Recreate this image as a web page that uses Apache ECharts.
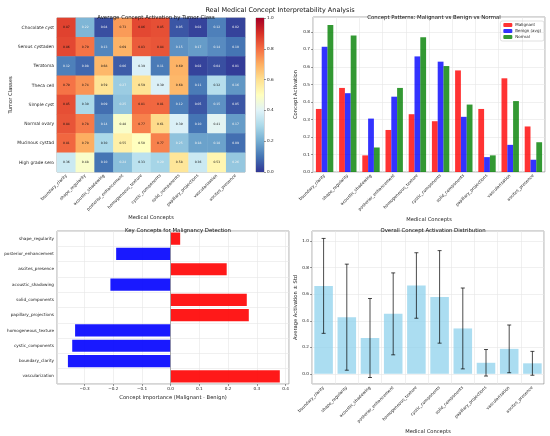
<!DOCTYPE html>
<html>
<head>
<meta charset="utf-8">
<script src="https://cdn.jsdelivr.net/npm/echarts@6/dist/echarts.min.js"></script>
<style>
html,body{margin:0;padding:0;background:#fff;}
#main{width:550px;height:436px;}
</style>
</head>
<body>
<div id="main"></div>
<script>
// categories
var concepts = ['boundary_clarity','shape_regularity','acoustic_shadowing','posterior_enhancement','homogeneous_texture',
                'cystic_components','solid_components','papillary_projections','vascularization','ascites_presence'];
var classes = ['Chocolate cyst','Serous cystaden','Teratoma','Theca cell','Simple cyst','Normal ovary','Mucinous cystad','High grade sero'];

// heatmap: one row per class, one value per concept
var activation = [
    [0.87,0.22,0.04,0.73,0.86,0.85,0.05,0.02,0.12,0.02],
    [0.86,0.79,0.13,0.69,0.83,0.84,0.15,0.17,0.14,0.10],
    [0.12,0.08,0.68,0.06,0.39,0.11,0.69,0.02,0.04,0.01],
    [0.79,0.74,0.59,0.27,0.59,0.39,0.68,0.11,0.32,0.16],
    [0.85,0.30,0.09,0.25,0.81,0.81,0.12,0.05,0.15,0.05],
    [0.84,0.78,0.14,0.48,0.77,0.61,0.39,0.10,0.41,0.17],
    [0.81,0.70,0.30,0.55,0.50,0.77,0.25,0.18,0.18,0.09],
    [0.36,0.48,0.10,0.24,0.33,0.29,0.58,0.36,0.53,0.26]
];

// malignant vs benign vs normal
var malignant = [0.36,0.48,0.095,0.24,0.33,0.29,0.58,0.36,0.535,0.26];
var benign    = [0.715,0.45,0.305,0.43,0.66,0.63,0.315,0.085,0.155,0.07];
var normal    = [0.84,0.78,0.14,0.48,0.77,0.605,0.385,0.095,0.405,0.17];

// importance, listed bottom to top
var impConcepts = ['vascularization','boundary_clarity','cystic_components','homogeneous_texture','papillary_projections',
                   'solid_components','acoustic_shadowing','ascites_presence','posterior_enhancement','shape_regularity'];
var impValues = [0.38,-0.358,-0.343,-0.333,0.272,0.265,-0.21,0.195,-0.19,0.033];

// overall distribution
var meanAct = [0.663,0.427,0.27,0.452,0.666,0.58,0.342,0.083,0.188,0.079];
var stdAct  = [0.358,0.40,0.298,0.309,0.247,0.349,0.305,0.10,0.18,0.09];

var colorTicks = [0,0.2,0.4,0.6,0.8,1.0];

window.onload = function(){
    var FONT = 'DejaVu Sans';
    var rdylbu = ['#313695','#4575b4','#74add1','#abd9e9','#e0f3f8','#ffffbf','#fee090','#fdae61','#f46d43','#d73027','#a50026'];
    var gridLine = {show:true, lineStyle:{color:'#e6e6e6', width:0.6}};
    var tickLabel = {fontFamily:FONT, fontSize:4.2, color:'#222'};
    var nameStyle = {fontFamily:FONT, fontSize:5.2, color:'#222'};

    var heatData = [];
    for (var r = 0; r < classes.length; r++) {
        for (var c = 0; c < concepts.length; c++) {
            heatData.push([c, r, activation[r][c]]);
        }
    }

    var stops = [];
    for (var i = 0; i < rdylbu.length; i++) {
        stops.push({offset: i/(rdylbu.length-1), color: rdylbu[i]});
    }

    var errData = [];
    for (var k = 0; k < meanAct.length; k++) {
        errData.push([k, meanAct[k], stdAct[k]]);
    }

    function fmt1(v){
        var s = Math.abs(v).toFixed(1);
        return v < -1e-9 ? '\u2212' + s : s;
    }

    function titleAt(text, x, y, size){
        return {text:text, left:x, top:y, textAlign:'center',
                textStyle:{fontFamily:FONT, fontSize:size, fontWeight:'normal', color:'#111'}};
    }

    var myChart = echarts.init(document.getElementById('main'), null, {renderer:'canvas'});

    var option = {
        backgroundColor:'#fff',
        animation:false,
        title:[
            titleAt('Real Medical Concept Interpretability Analysis', 275, 2, 6.5),
            titleAt('Average Concept Activation by Tumor Class', 151, 10, 5.4),
            titleAt('Concept Patterns: Malignant vs Benign vs Normal', 429, 10, 5.4),
            titleAt('Key Concepts for Malignancy Detection', 173, 223, 5.4),
            titleAt('Overall Concept Activation Distribution', 428, 223, 5.4)
        ],
        legend:{
            data:['Malignant','Benign (avg)','Normal'],
            orient:'vertical', right:6, top:21,
            itemWidth:9, itemHeight:4, itemGap:2,
            padding:[2,3,2,3],
            borderColor:'#ccc', borderWidth:0.6, borderRadius:2,
            textStyle:{fontFamily:FONT, fontSize:4, color:'#222', padding:[0,0,0,-2]}
        },
        visualMap:{
            show:false, min:0, max:1, seriesIndex:0, dimension:2,
            inRange:{color:rdylbu}
        },
        grid:[
            {left:57, top:18, width:188, height:154, show:true, borderColor:'#777', borderWidth:0.6},
            {left:256, top:18, width:8, height:154, show:true, borderColor:'#777', borderWidth:0.6},
            {left:313, top:17, width:232, height:155, show:true, borderColor:'#777', borderWidth:0.6},
            {left:57, top:231, width:232, height:153, show:true, borderColor:'#777', borderWidth:0.6},
            {left:312, top:231, width:232, height:153, show:true, borderColor:'#777', borderWidth:0.6}
        ],
        xAxis:[
            {gridIndex:0, type:'category', data:concepts,
             name:'Medical Concepts', nameLocation:'middle', nameGap:43, nameTextStyle:nameStyle,
             axisLine:{show:false}, axisTick:{alignWithLabel:true, length:2, lineStyle:{color:'#333', width:0.5}},
             axisLabel:Object.assign({rotate:45, interval:0, margin:3}, tickLabel)},
            {gridIndex:1, type:'category', data:[''], show:false},
            {gridIndex:2, type:'category', data:concepts,
             name:'Medical Concepts', nameLocation:'middle', nameGap:45, nameTextStyle:nameStyle,
             axisLine:{show:false}, axisTick:{alignWithLabel:true, length:2, lineStyle:{color:'#333', width:0.5}},
             axisLabel:Object.assign({rotate:45, interval:0, margin:3}, tickLabel),
             splitLine:gridLine},
            {gridIndex:3, type:'value', min:-0.396, max:0.412, minInterval:0.1, maxInterval:0.1,
             name:'Concept Importance (Malignant - Benign)', nameLocation:'middle', nameGap:11, nameTextStyle:nameStyle,
             axisLine:{show:false}, axisTick:{show:true, length:2, lineStyle:{color:'#333', width:0.5}},
             axisLabel:Object.assign({formatter:fmt1, margin:3, showMinLabel:false, showMaxLabel:false}, tickLabel),
             splitLine:gridLine},
            {gridIndex:4, type:'category', data:concepts,
             name:'Medical Concepts', nameLocation:'middle', nameGap:45, nameTextStyle:nameStyle,
             axisLine:{show:false}, axisTick:{alignWithLabel:true, length:2, lineStyle:{color:'#333', width:0.5}},
             axisLabel:Object.assign({rotate:45, interval:0, margin:3}, tickLabel),
             splitLine:gridLine}
        ],
        yAxis:[
            {gridIndex:0, type:'category', data:classes, inverse:true,
             name:'Tumor Classes', nameLocation:'middle', nameGap:42, nameTextStyle:nameStyle,
             axisLine:{show:false}, axisTick:{alignWithLabel:true, length:2, lineStyle:{color:'#333', width:0.5}},
             axisLabel:Object.assign({margin:3}, tickLabel, {fontSize:4.4})},
            {gridIndex:1, type:'value', min:0, max:1, interval:0.2, position:'right',
             axisLine:{show:false}, axisTick:{show:true, length:2, lineStyle:{color:'#333', width:0.5}},
             axisLabel:Object.assign({formatter:fmt1, margin:3}, tickLabel),
             splitLine:{show:false}},
            {gridIndex:2, type:'value', min:0, max:0.885, interval:0.1,
             name:'Concept Activation', nameLocation:'middle', nameGap:15, nameTextStyle:nameStyle,
             axisLine:{show:false}, axisTick:{show:true, length:2, lineStyle:{color:'#333', width:0.5}},
             axisLabel:Object.assign({formatter:fmt1, margin:3, showMaxLabel:false}, tickLabel),
             splitLine:gridLine},
            {gridIndex:3, type:'category', data:impConcepts,
             axisLine:{show:false}, axisTick:{alignWithLabel:true, length:2, lineStyle:{color:'#333', width:0.5}},
             axisLabel:Object.assign({margin:3, interval:0}, tickLabel),
             splitLine:gridLine},
            {gridIndex:4, type:'value', min:-0.077, max:1.077, minInterval:0.2, maxInterval:0.2,
             name:'Average Activation \u00b1 Std', nameLocation:'middle', nameGap:14, nameTextStyle:nameStyle,
             axisLine:{show:false}, axisTick:{show:true, length:2, lineStyle:{color:'#333', width:0.5}},
             axisLabel:Object.assign({formatter:fmt1, margin:3, showMinLabel:false, showMaxLabel:false}, tickLabel),
             splitLine:gridLine}
        ],
        series:[
            {
                type:'heatmap', xAxisIndex:0, yAxisIndex:0, data:heatData,
                label:{show:true, fontFamily:FONT, fontSize:3,
                       formatter:function(p){ return p.value[2].toFixed(2); },
                       color:'#111'},
                labelLayout:function(p){ return {}; },
                itemStyle:{borderWidth:0}
            },
            {
                type:'bar', xAxisIndex:1, yAxisIndex:1, data:[1], barWidth:'100%', silent:true,
                itemStyle:{color:new echarts.graphic.LinearGradient(0,1,0,0,stops)}
            },
            {name:'Malignant', type:'bar', xAxisIndex:2, yAxisIndex:2, data:malignant,
             barGap:'0%', barCategoryGap:'25%', itemStyle:{color:'rgba(255,0,0,0.8)'}},
            {name:'Benign (avg)', type:'bar', xAxisIndex:2, yAxisIndex:2, data:benign,
             barGap:'0%', barCategoryGap:'25%', itemStyle:{color:'rgba(0,0,255,0.8)'}},
            {name:'Normal', type:'bar', xAxisIndex:2, yAxisIndex:2, data:normal,
             barGap:'0%', barCategoryGap:'25%', itemStyle:{color:'rgba(0,128,0,0.8)'}},
            {
                type:'bar', xAxisIndex:3, yAxisIndex:3, barCategoryGap:'20%',
                data:impValues.map(function(v){
                    return {value:v, itemStyle:{color: v > 0 ? 'rgba(255,0,0,0.9)' : 'rgba(0,0,255,0.9)'}};
                }),
                markLine:{silent:true, symbol:'none', label:{show:false},
                          lineStyle:{color:'#999', width:0.8, type:'solid'},
                          data:[{xAxis:0}]}
            },
            {
                type:'bar', xAxisIndex:4, yAxisIndex:4, data:meanAct, barCategoryGap:'20%',
                itemStyle:{color:'rgba(135,206,235,0.7)'}
            },
            {
                type:'custom', xAxisIndex:4, yAxisIndex:4, data:errData, z:10,
                renderItem:function(params, api){
                    var x = api.value(0), m = api.value(1), s = api.value(2);
                    var top = api.coord([x, m + s]);
                    var bot = api.coord([x, m - s]);
                    var cap = 2;
                    var st = {stroke:'rgba(0,0,0,0.7)', lineWidth:1};
                    return {type:'group', children:[
                        {type:'line', shape:{x1:top[0], y1:top[1], x2:bot[0], y2:bot[1]}, style:st},
                        {type:'line', shape:{x1:top[0]-cap, y1:top[1], x2:top[0]+cap, y2:top[1]}, style:st},
                        {type:'line', shape:{x1:bot[0]-cap, y1:bot[1], x2:bot[0]+cap, y2:bot[1]}, style:st}
                    ]};
                }
            }
        ]
    };

    // light text on the darker blue cells
    option.series[0].data = heatData.map(function(d){
        return {value:d, label:{color: d[2] < 0.3 ? '#f4f4f4' : '#111'}};
    });

    myChart.setOption(option);
};
</script>
</body>
</html>
